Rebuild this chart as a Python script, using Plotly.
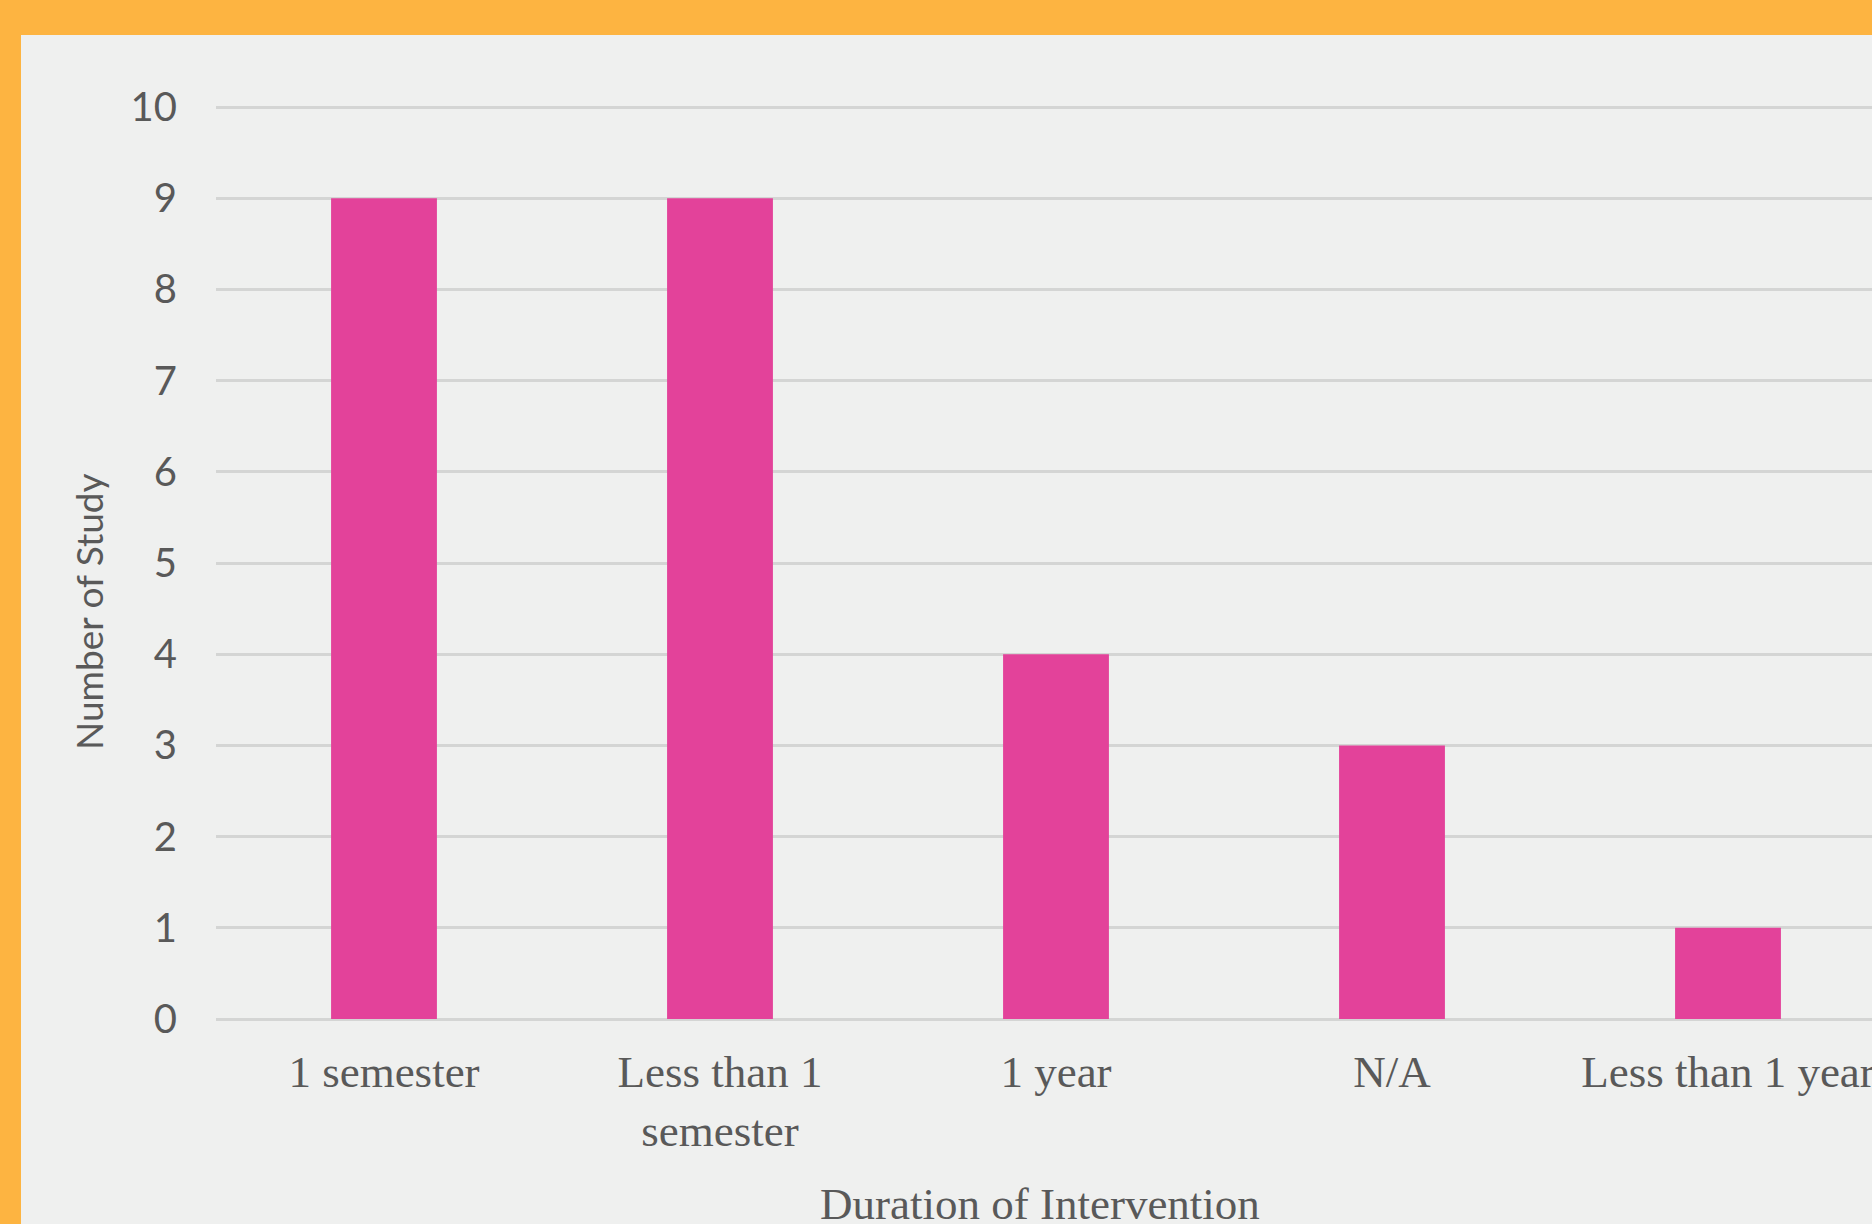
import plotly.graph_objects as go

# ---- data ----
categories = ["1 semester", "Less than 1 semester", "1 year", "N/A", "Less than 1 year"]
tick_labels = ["1 semester", "Less than 1<br>semester", "1 year", "N/A", "Less than 1 year"]
study_counts = [9, 9, 4, 3, 1]
y_ticks = [0, 1, 2, 3, 4, 5, 6, 7, 8, 9, 10]

# ---- styles ----
W, H = 1872, 1224
BG = "#EFF0EF"
ORANGE = "#FDB441"
BAR = "#E3429A"
GRID = "#D4D5D4"
TXT = "#595959"

ML, MT, MB = 216, 105, 205
plot_w = W - ML
plot_h = H - MT - MB
unit = 336.0
x_hi = plot_w / unit - 0.5
y_hi = plot_h / 91.2  # slightly above 10 so the top gridline is drawn

fig = go.Figure(go.Bar(
    x=categories, y=study_counts, marker=dict(color=BAR, line=dict(width=0)),
    hoverinfo="x+y",
))

def px_x(px):
    return (px - ML) / plot_w

def px_y(py):
    return (H - MB - py) / plot_h

fig.update_layout(
    width=W, height=H,
    margin=dict(l=ML, r=0, t=MT, b=MB, pad=0),
    paper_bgcolor=BG, plot_bgcolor=BG,
    bargap=0.685,
    showlegend=False,
    xaxis=dict(
        type="category", range=[-0.5, x_hi],
        tickvals=categories, ticktext=tick_labels,
        showgrid=False, zeroline=False, showline=False, ticks="",
        tickfont=dict(family="Liberation Serif", size=45, color=TXT),
        ticklabelstandoff=22, automargin=False, fixedrange=True,
    ),
    yaxis=dict(
        range=[0, y_hi], tickvals=y_ticks,
        showgrid=True, gridcolor=GRID, gridwidth=3,
        zeroline=True, zerolinecolor=GRID, zerolinewidth=3,
        showline=False, ticks="",
        tickfont=dict(family="Lato", size=40, color=TXT),
        ticklabelstandoff=38, automargin=False, fixedrange=True,
    ),
    annotations=[
        dict(text="Duration of Intervention", xref="paper", yref="paper",
             x=px_x(1040), y=px_y(1204), xanchor="center", yanchor="middle",
             showarrow=False, font=dict(family="Liberation Serif", size=45, color=TXT)),
        dict(text="Number of Study", xref="paper", yref="paper",
             x=px_x(88), y=px_y(612), xanchor="center", yanchor="middle",
             textangle=-90, showarrow=False,
             font=dict(family="Lato", size=37, color=TXT)),
    ],
    shapes=[
        dict(type="rect", xref="paper", yref="paper", layer="above",
             x0=px_x(0), x1=px_x(W), y0=px_y(35), y1=px_y(0),
             fillcolor=ORANGE, line=dict(width=0)),
        dict(type="rect", xref="paper", yref="paper", layer="above",
             x0=px_x(0), x1=px_x(21), y0=px_y(H), y1=px_y(0),
             fillcolor=ORANGE, line=dict(width=0)),
    ],
)

fig.write_html("out.html", config={"displayModeBar": False})
